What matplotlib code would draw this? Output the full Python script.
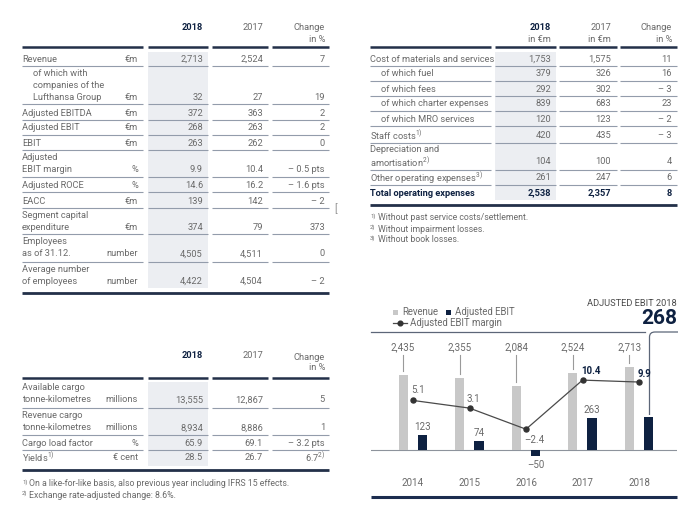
import matplotlib
matplotlib.use("Agg")
import matplotlib.pyplot as plt
from matplotlib.patches import Rectangle, PathPatch
from matplotlib.path import Path

plt.rcParams['font.family'] = ['Roboto', 'DejaVu Sans']
plt.rcParams['mathtext.fontset'] = 'custom'
plt.rcParams['mathtext.rm'] = 'Roboto'
plt.rcParams['mathtext.it'] = 'Roboto'
plt.rcParams['mathtext.bf'] = 'Roboto:bold'

GRAY = '#6a6a6a'
NAVY = '#0e2141'
LINE = '#939cab'
HEAD = '#233049'
SHADE = '#eceef2'
BARGRAY = '#c8c8c8'
FS = 6.7

# ---------------- data: table 1 (segment key figures) ----------------
t1_labels = ["Revenue", "of which with\ncompanies of the\nLufthansa Group", "Adjusted EBITDA",
             "Adjusted EBIT", "EBIT", "Adjusted\nEBIT margin", "Adjusted ROCE", "EACC",
             "Segment capital\nexpenditure", "Employees\nas of 31.12.", "Average number\nof employees"]
t1_indent = [False, True, False, False, False, False, False, False, False, False, False]
t1_units = ["€m", "€m", "€m", "€m", "€m", "%", "%", "€m", "€m", "number", "number"]
t1_2018 = ["2,713", "32", "372", "268", "263", "9.9", "14.6", "139", "374", "4,505", "4,422"]
t1_2017 = ["2,524", "27", "363", "263", "262", "10.4", "16.2", "142", "79", "4,511", "4,504"]
t1_chg = ["7", "19", "2", "2", "0", "– 0.5 pts", "– 1.6 pts", "– 2", "373", "0", "– 2"]

# ---------------- data: table 2 (operating expenses) ----------------
t2_labels = ["Cost of materials and services", "of which fuel", "of which fees",
             "of which charter expenses", "of which MRO services", "Staff costs$^{1)}$",
             "Depreciation and\namortisation$^{2)}$", "Other operating expenses$^{3)}$",
             "Total operating expenses"]
t2_indent = [False, True, True, True, True, False, False, False, False]
t2_2018 = ["1,753", "379", "292", "839", "120", "420", "104", "261", "2,538"]
t2_2017 = ["1,575", "326", "302", "683", "123", "435", "100", "247", "2,357"]
t2_chg = ["11", "16", "– 3", "23", "– 2", "– 3", "4", "6", "8"]
t2_notes = ["Without past service costs/settlement.", "Without impairment losses.",
            "Without book losses."]

# ---------------- data: table 3 (traffic figures) ----------------
t3_labels = ["Available cargo\ntonne-kilometres", "Revenue cargo\ntonne-kilometres",
             "Cargo load factor", "Yields$^{1)}$"]
t3_units = ["millions", "millions", "%", "€ cent"]
t3_2018 = ["13,555", "8,934", "65.9", "28.5"]
t3_2017 = ["12,867", "8,886", "69.1", "26.7"]
t3_chg = ["5", "1", "– 3.2 pts", "6.7$^{2)}$"]
t3_notes = ["On a like-for-like basis, also previous year including IFRS 15 effects.",
            "Exchange rate-adjusted change: 8.6%."]

# ---------------- data: chart ----------------
years = ["2014", "2015", "2016", "2017", "2018"]
revenue = [2435, 2355, 2084, 2524, 2713]
adj_ebit = [123, 74, -50, 263, 268]
margin = [5.1, 3.1, -2.4, 10.4, 9.9]
margin_bold = [False, False, False, True, True]
headline_value = "268"

fig = plt.figure(figsize=(7, 5.22), dpi=100)
ax0 = fig.add_axes([0, 0, 1, 1])
ax0.set_xlim(0, 700)
ax0.set_ylim(522, 0)
ax0.axis('off')


def txt(x, y, s, ha='left', bold=False, size=FS, color=None):
    ax0.text(x, y, s, ha=ha, va='center', fontsize=size,
             fontweight='bold' if bold else 'normal',
             color=color or (NAVY if bold else GRAY))


def multiline(x, y_last, s, ha='left', bold=False, step=12):
    lines = s.split('\n')
    n = len(lines)
    for k, ln in enumerate(lines):
        txt(x, y_last - step * (n - 1 - k), ln, ha=ha, bold=bold)


def hseg(x0, x1, y, color=LINE, lw=0.8):
    ax0.plot([x0, x1], [y, y], color=color, lw=lw, solid_capstyle='butt')


def table(x_label, x_indent, x_unit, x_cols, segs, head_y, seps, thick_y, row_y,
          labels, indents, units, c18, c17, chg, shade, bold_last=False):
    sx0, sx1, sy0, sy1 = shade
    ax0.add_patch(Rectangle((sx0, sy0), sx1 - sx0, sy1 - sy0, color=SHADE, lw=0, zorder=0))
    for a, b in segs:
        hseg(a, b, head_y, color=HEAD, lw=1.8)
    for y in seps:
        for a, b in segs:
            hseg(a, b, y)
    hseg(segs[0][0], segs[-1][1], thick_y, color=HEAD, lw=2.0)
    for i, lab in enumerate(labels):
        bold = bold_last and i == len(labels) - 1
        x = x_indent if indents[i] else x_label
        multiline(x, row_y[i], lab, bold=bold)
        if units is not None:
            txt(x_unit, row_y[i], units[i], ha='right')
        txt(x_cols[0], row_y[i], c18[i], ha='right', bold=bold)
        txt(x_cols[1], row_y[i], c17[i], ha='right', bold=bold)
        txt(x_cols[2], row_y[i], chg[i], ha='right', bold=bold)


# ---- table 1
segs1 = [(22, 143), (148, 208), (212, 268), (272, 329)]
txt(203, 27, "2018", ha='right', bold=True)
txt(263, 27, "2017", ha='right')
txt(325, 27, "Change", ha='right')
txt(325, 39, "in %", ha='right')
table(22, 33, 138, (203, 263, 325), segs1, 47,
      [66, 104, 120, 135, 150, 177, 192, 208, 234, 262], 293,
      [59, 97, 113, 128, 144, 170, 185, 201, 228, 254, 281],
      t1_labels, t1_indent, t1_units, t1_2018, t1_2017, t1_chg, (148, 208, 52, 288))
txt(334, 209, "[", color='#8a8a8a', size=7)

# ---- table 2
segs2 = [(370, 491), (495, 556), (559, 617), (620, 677)]
txt(551, 27, "2018", ha='right', bold=True)
txt(551, 39, "in €m", ha='right')
txt(611, 27, "2017", ha='right')
txt(611, 39, "in €m", ha='right')
txt(672, 27, "Change", ha='right')
txt(672, 39, "in %", ha='right')
table(370, 381, None, (551, 611, 672), segs2, 47,
      [66, 81, 96, 111, 126, 143, 170, 185], 205,
      [59, 74, 89, 104, 119, 135, 162, 178, 193],
      t2_labels, t2_indent, None, t2_2018, t2_2017, t2_chg, (495, 556, 52, 200),
      bold_last=True)
for k, note in enumerate(t2_notes):
    y = 218 + 11 * k
    txt(370, y - 2, f"{k + 1})", size=4.3)
    txt(378, y, note, size=6.3)

# ---- table 3
txt(203, 356, "2018", ha='right', bold=True)
txt(263, 356, "2017", ha='right')
txt(325, 357, "Change", ha='right')
txt(325, 368, "in %", ha='right')
table(22, 33, 138, (203, 263, 325), segs1, 378,
      [408, 435, 450], 470,
      [400, 428, 443, 457],
      t3_labels, [False] * 4, t3_units, t3_2018, t3_2017, t3_chg, (148, 208, 382, 466))
for k, note in enumerate(t3_notes):
    y = 484 + 11 * k
    txt(22, y - 2, f"{k + 1})", size=4.3)
    txt(29, y, note, size=6.3)

# ---------------- chart ----------------
CH_L, CH_R, CH_T, CH_B = 371, 677, 335, 470
BASE = 450
REV_PX = 0.0307
EBIT_PX = 0.123
M_PX = 3.835
M_ZERO = 420
X0, XS = 413, 56.5

ax = fig.add_axes([CH_L / 700, 1 - CH_B / 522, (CH_R - CH_L) / 700, (CH_B - CH_T) / 522])
ax2 = ax.twinx()
ax3 = ax.twinx()
for a in (ax, ax2, ax3):
    a.set_xlim((CH_L - X0) / XS, (CH_R - X0) / XS)
    for s in a.spines.values():
        s.set_visible(False)
    a.set_yticks([])
    a.patch.set_visible(False)
ax.set_ylim(-(CH_B - BASE) / REV_PX, (BASE - CH_T) / REV_PX)
ax2.set_ylim(-(CH_B - BASE) / EBIT_PX, (BASE - CH_T) / EBIT_PX)
ax3.set_ylim(-(CH_B - M_ZERO) / M_PX, (M_ZERO - CH_T) / M_PX)

xs = list(range(len(years)))
rev_x = [i - 0.175 for i in xs]
ebit_x = [i + 0.168 for i in xs]
ax.bar(rev_x, revenue, width=0.16, color=BARGRAY, zorder=2)
ax2.bar(ebit_x, adj_ebit, width=0.165, color=NAVY, zorder=2)
ax.axhline(0, color='#8d939c', lw=0.8, zorder=1)

ax.set_xticks(xs)
ax.set_xticklabels(years, fontsize=7, color=GRAY)
ax.tick_params(axis='x', length=0, pad=5.5)

# revenue labels with connectors
lo, hi = ax.get_ylim()
lab_y = lo + (CH_B - 347) / (CH_B - CH_T) * (hi - lo)
con_top = lo + (CH_B - 355) / (CH_B - CH_T) * (hi - lo)
for x, v in zip(rev_x, revenue):
    ax.text(x, lab_y, f"{v:,}", ha='center', va='center', fontsize=7, color=GRAY)
    ax.plot([x, x], [con_top, v + 130], color='#9a9a9a', lw=0.8)

# EBIT labels (2018 shown as headline)
for x, v in zip(ebit_x[:-1], adj_ebit[:-1]):
    if v >= 0:
        ax2.annotate(f"{v}", (x, v), xytext=(0, 8), textcoords='offset pixels',
                     ha='center', va='center', fontsize=7, color=GRAY)
    else:
        ax2.annotate(f"–{abs(v)}", (x, v), xytext=(0, -8.5), textcoords='offset pixels',
                     ha='center', va='center', fontsize=7, color=GRAY)

# margin line
ax3.plot(xs, margin, color='#4a4a4a', lw=0.9, marker='o', ms=3.6,
         mfc='#333333', mec='#333333', zorder=5)
m_off = [(5, 10), (4, 9), (8, -11), (8, 9), (5, 8)]
for x, v, b, off in zip(xs, margin, margin_bold, m_off):
    s = f"{v:.1f}" if v >= 0 else f"–{abs(v):.1f}"
    ax3.annotate(s, (x, v), xytext=off, textcoords='offset pixels', ha='center',
                 va='center', fontsize=7, color=NAVY if b else GRAY,
                 fontweight='bold' if b else 'normal')

# chart frame lines
ax0.plot([371, 645], [332, 332], color='#5c6678', lw=0.9)
ax0.plot([371, 677], [497, 497], color='#1c2d4f', lw=2.2, solid_capstyle='butt')
p = Path([(649.5, 415), (649.5, 337), (649.5, 332), (655, 332), (678, 332)],
         [Path.MOVETO, Path.LINETO, Path.CURVE3, Path.CURVE3, Path.LINETO])
ax0.add_patch(PathPatch(p, fc='none', ec='#5c6678', lw=0.9))

# headline
txt(677, 303, "ADJUSTED EBIT 2018", ha='right', size=6.7, color='#4a4a4a')
ax0.text(677, 319, headline_value, ha='right', va='center', fontsize=15,
         fontweight='bold', color=NAVY)

# legend
ax0.add_patch(Rectangle((393, 309.5), 5, 5, color=BARGRAY, lw=0))
txt(402, 312, "Revenue", size=6.9)
ax0.add_patch(Rectangle((446, 309.5), 5, 5, color=NAVY, lw=0))
txt(455, 312, "Adjusted EBIT", size=6.9)
ax0.plot([393, 407], [323, 323], color='#4a4a4a', lw=0.9)
ax0.plot([400], [323], 'o', ms=3.4, color='#333333')
txt(410, 323, "Adjusted EBIT margin", size=6.9)

fig.savefig("out.png", dpi=100)
